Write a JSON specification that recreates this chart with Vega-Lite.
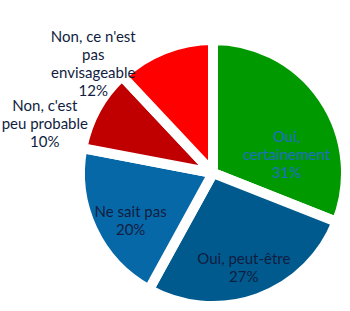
{
  "$schema": "https://vega.github.io/schema/vega-lite/v6.json",
  "autosize": {"type": "none"},
  "padding": {"left": 76, "top": 35, "right": 0, "bottom": 0},
  "width": 274,
  "height": 276,
  "background": "white",
  "config": {"view": {"stroke": null}},
  "data": {
    "values": [
      {"k": 1, "cat": "Oui, certainement", "v": 31, "label": "Oui,\ncertainement\n31%"},
      {"k": 2, "cat": "Oui, peut-être", "v": 27, "label": "Oui, peut-être\n27%"},
      {"k": 3, "cat": "Ne sait pas", "v": 20, "label": "Ne sait pas\n20%"},
      {"k": 4, "cat": "Non, c'est peu probable", "v": 10, "label": "Non, c'est\npeu probable\n10%"},
      {"k": 5, "cat": "Non, ce n'est pas envisageable", "v": 12, "label": "Non, ce n'est\npas\nenvisageable\n12%"}
    ]
  },
  "encoding": {
    "theta": {"field": "v", "type": "quantitative", "stack": true},
    "order": {"field": "k", "type": "quantitative"}
  },
  "layer": [
    {
      "mark": {"type": "arc", "outerRadius": 133, "stroke": "white", "strokeWidth": 10, "strokeJoin": "round"},
      "encoding": {
        "color": {
          "field": "cat",
          "type": "nominal",
          "scale": {
            "domain": ["Oui, certainement", "Oui, peut-être", "Ne sait pas", "Non, c'est peu probable", "Non, ce n'est pas envisageable"],
            "range": ["#009900", "#005a8e", "#0768a8", "#c00000", "#ff0000"]
          },
          "legend": null
        }
      }
    },
    {
      "mark": {"type": "text", "radius": 82, "thetaOffset": 0.14, "font": "Lato", "fontSize": 15, "lineBreak": "\n", "lineHeight": 18, "color": "#1f6fc5"},
      "encoding": {"text": {"condition": {"test": "datum.k == 1", "field": "label"}, "value": ""}}
    },
    {
      "mark": {"type": "text", "radius": 91, "font": "Lato", "fontSize": 15, "lineBreak": "\n", "lineHeight": 18, "color": "#111d40"},
      "encoding": {"text": {"condition": {"test": "datum.k == 2 || datum.k == 3", "field": "label"}, "value": ""}}
    },
    {
      "mark": {"type": "text", "radius": 181, "thetaOffset": -0.124, "font": "Lato", "fontSize": 15, "lineBreak": "\n", "lineHeight": 18, "color": "#111d40"},
      "encoding": {"text": {"condition": {"test": "datum.k == 4", "field": "label"}, "value": ""}}
    },
    {
      "mark": {"type": "text", "radius": 181, "thetaOffset": -0.346, "font": "Lato", "fontSize": 15, "lineBreak": "\n", "lineHeight": 18, "color": "#111d40"},
      "encoding": {"text": {"condition": {"test": "datum.k == 5", "field": "label"}, "value": ""}}
    }
  ]
}
